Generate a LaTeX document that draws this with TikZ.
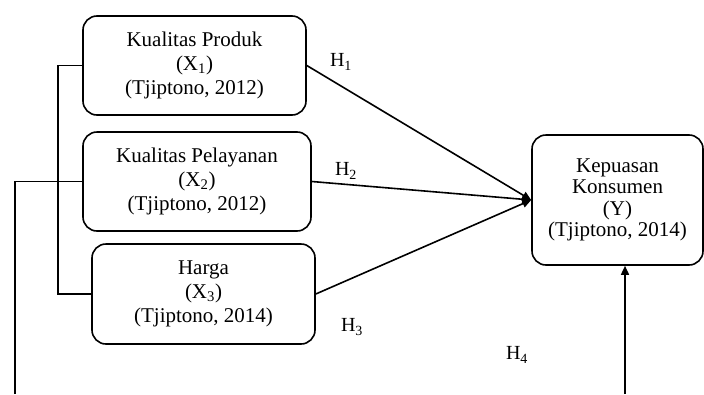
\documentclass[tikz,border=0pt]{standalone}
\usepackage{fontspec}
\setmainfont{Liberation Serif}
\usetikzlibrary{arrows.meta}
\begin{document}
\begin{tikzpicture}[x=1pt,y=-1pt,
  box/.style={draw, line width=1.6pt, rounded corners=14pt, align=center, inner sep=0pt,
    font=\fontsize{21}{24}\selectfont},
  lnk/.style={line width=1.6pt},
  arr/.style={line width=1.6pt, -{Triangle[length=9pt,width=8pt]}},
  hlab/.style={font=\fontsize{20}{22}\selectfont, inner sep=0pt}]
\useasboundingbox (0,0) rectangle (704,394);
\node[box, minimum width=223pt, minimum height=99pt] (x1) at (194.5,65.5)
  {Kualitas Produk\\(X\textsubscript{1})\\(Tjiptono, 2012)};
\node[box, minimum width=228pt, minimum height=99pt] (x2) at (197,181.5)
  {Kualitas Pelayanan\\(X\textsubscript{2})\\(Tjiptono, 2012)};
\node[box, minimum width=223pt, minimum height=100pt] (x3) at (203.5,294)
  {Harga\\(X\textsubscript{3})\\(Tjiptono, 2014)};
\node[box, minimum width=171pt, minimum height=130pt, font=\fontsize{21}{21.5}\selectfont] (y) at (617.5,200)
  {Kepuasan\\Konsumen\\(Y)\\(Tjiptono, 2014)};
\node[hlab] (h1) at (341,62) {H\textsubscript{1}};
\node[hlab] (h2) at (346,171) {H\textsubscript{2}};
\node[hlab] (h3) at (352,327) {H\textsubscript{3}};
\node[hlab] (h4) at (517,355) {H\textsubscript{4}};
\coordinate (bk) at (58,0);
\coordinate (o) at (15,394);
\coordinate (yb) at (625,394);
\draw[lnk] (x1.west) -| (bk |- x3.west) -- (x3.west);
\draw[lnk] (o) |- (x2.west);
\draw[arr] (x1.east) -- (y.west);
\draw[arr] (x2.east) -- (y.west);
\draw[arr] (x3.east) -- (y.west);
\draw[arr] (yb) -- (yb |- y.south);
\end{tikzpicture}
\end{document}
